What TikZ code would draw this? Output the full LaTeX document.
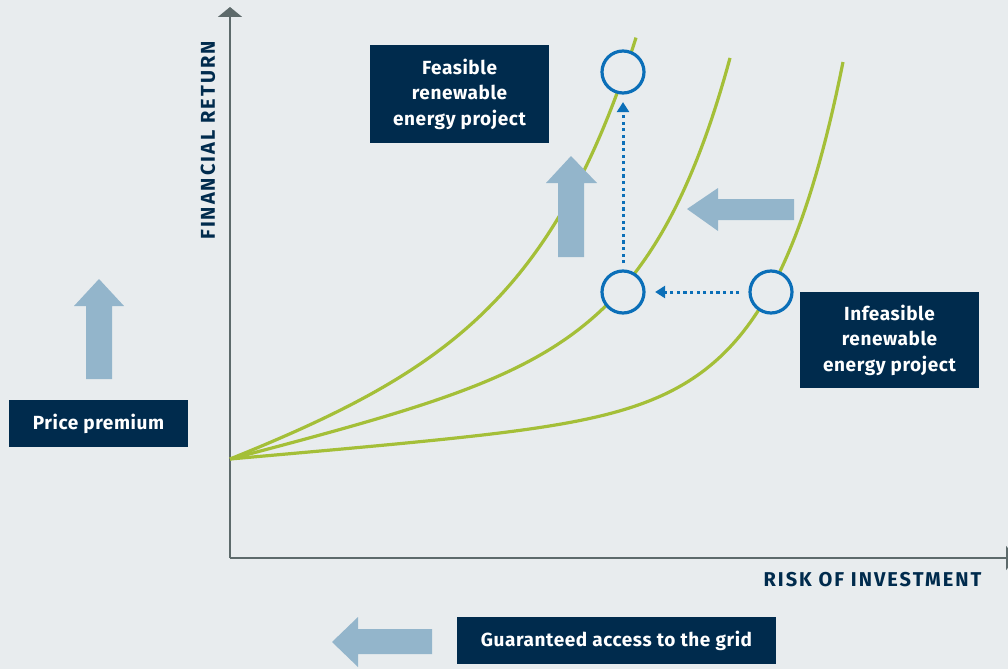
\documentclass[tikz,border=0pt]{standalone}
\usepackage{fontspec}
\setmainfont{Fira Sans}
\usetikzlibrary{arrows.meta}
\definecolor{bg}{HTML}{E8ECEE}
\definecolor{navy}{HTML}{002B4D}
\definecolor{lblue}{HTML}{93B5CB}
\definecolor{lgreen}{HTML}{A4BF38}
\definecolor{cblue}{HTML}{0B6FB8}
\definecolor{axisgrey}{HTML}{5D6A6B}
\tikzset{
  axisline/.style={draw=axisgrey, line width=2pt, -{Triangle[length=10pt,width=24pt]}},
  curveline/.style={draw=lgreen, line width=3.2pt},
  ring/.style={circle, draw=cblue, fill=bg, line width=3.2pt, minimum size=42pt, inner sep=0pt},
  dotarrow/.style={draw=cblue, line width=3pt, dash pattern=on 3.3pt off 3.3pt, -{Triangle[length=10pt,width=12pt]}},
  box/.style={fill=navy, text=white, inner sep=0pt, align=center,
    font=\fontsize{19}{25.5}\selectfont\bfseries\addfontfeature{LetterSpace=3}},
  axislabel/.style={text=navy, inner sep=0pt, font=\fontsize{20}{22}\selectfont\bfseries\addfontfeature{LetterSpace=10}},
  bigarrow/.style={fill=lblue}
}
\begin{document}
\begin{tikzpicture}[x=1pt,y=-1pt]
\useasboundingbox[fill=bg] (0,0) rectangle (1008,669);
% axes
\coordinate (O) at (230,558);
\coordinate (ytip) at (230,7);
\coordinate (xtip) at (1016,558);
\draw[axisline] (O) -- (ytip);
\draw[axisline] (O) -- (xtip);
% curves
\draw[curveline] plot[domain=0:406,samples=160] ({230+\x},{459-4.873*(exp(\x/100)-1)-0.354*\x});
\draw[curveline] plot[domain=0:500,samples=160] ({230+\x},{459-0.5297*(exp(\x/80)-1)-0.2544*\x});
\draw[curveline] plot[domain=0:613,samples=180] ({230+\x},{459-0.05405*(exp(\x/70)-1)-0.0873*\x});
% big arrows
\fill[bigarrow] (99,279) -- (124,306) -- (112,306) -- (112,379) -- (86,379) -- (86,306) -- (74,306) -- cycle;
\fill[bigarrow] (571,156) -- (597,183) -- (584,183) -- (584,257) -- (558,257) -- (558,183) -- (546,183) -- cycle;
\fill[bigarrow] (687,209) -- (718,188) -- (718,199) -- (794,199) -- (794,220) -- (718,220) -- (718,231) -- cycle;
\fill[bigarrow] (332,642) -- (358,617) -- (358,629) -- (432,629) -- (432,654) -- (358,654) -- (358,667) -- cycle;
% circles
\node[ring] (c1) at (623,72) {};
\node[ring] (c2) at (623,292) {};
\node[ring] (c3) at (771,292) {};
\draw[dotarrow, shorten <=9pt, shorten >=9.5pt] (c3.west) -- (c2.east);
\draw[dotarrow, shorten <=6pt, shorten >=7.5pt] (c2.north) -- (c1.south);
% boxes
\node[box, minimum width=179pt, minimum height=98pt] (feas) at (459.5,94) {Feasible\\renewable\\energy project};
\node[box, minimum width=179pt, minimum height=96pt] (infeas) at (889.5,340) {Infeasible\\renewable\\energy project};
\node[box, minimum width=179pt, minimum height=47pt] (price) at (98.5,423.5) {Price premium};
\node[box, minimum width=319pt, minimum height=47pt] (grid) at (616.5,640.5) {Guaranteed access to the grid};
% axis labels
\node[axislabel, rotate=90] (ylab) at (208,140.5) {FINANCIAL RETURN};
\node[axislabel] (xlab) at (872.5,580) {RISK OF INVESTMENT};
\end{tikzpicture}
\end{document}
